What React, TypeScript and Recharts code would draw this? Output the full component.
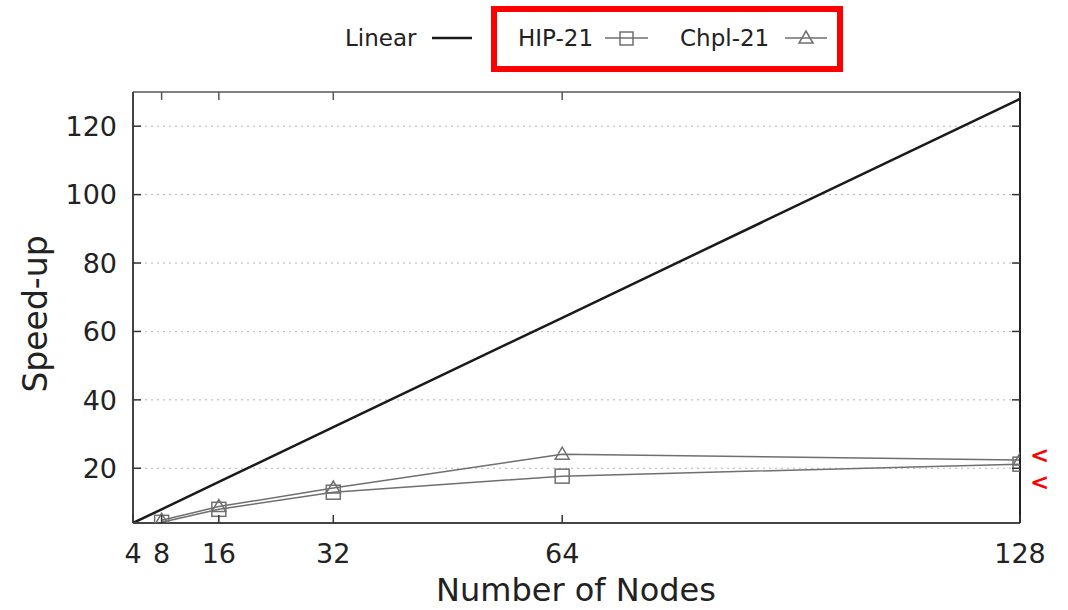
import React from 'react';
import { LineChart, Line, XAxis, YAxis, CartesianGrid } from 'recharts';

const nodes = [4, 8, 16, 32, 64, 128];
const linearSpeedup = [4, 8, 16, 32, 64, 128];
const hip21 = [null, 4.2, 8.0, 13.0, 17.7, 21.2];
const chpl21 = [null, 4.8, 8.8, 14.2, 24.1, 22.4];
const xTicks = [4, 8, 16, 32, 64, 128];
const yTicks = [20, 40, 60, 80, 100, 120];

const data = nodes.map((n, i) => ({ n, linear: linearSpeedup[i], hip: hip21[i], chpl: chpl21[i] }));

const FONT = 'DejaVu Sans';
const GRAY = '#6f6f6f';

const SquareDot = (props: any) => {
  const { cx, cy, value } = props;
  if (value == null || cx == null || cy == null) return <g />;
  return <rect x={cx - 7} y={cy - 7} width={14} height={14} fill="none" stroke={GRAY} strokeWidth={1.5} />;
};

const TriDot = (props: any) => {
  const { cx, cy, value } = props;
  if (value == null || cx == null || cy == null) return <g />;
  return <path d={`M${cx - 7},${cy + 5} L${cx + 7},${cy + 5} L${cx},${cy - 7} Z`} fill="none" stroke={GRAY} strokeWidth={1.5} />;
};

const BottomTick = (props: any) => {
  const { x, y, payload } = props;
  return (
    <g>
      <line x1={x} x2={x} y1={y} y2={y - 8} stroke="#333" strokeWidth={1.5} />
      <text x={x} y={y + 40} textAnchor="middle" fontSize={27} fontFamily={FONT} fill="#222">{payload.value}</text>
    </g>
  );
};

const TopTick = (props: any) => {
  const { x, y } = props;
  return <line x1={x} x2={x} y1={y} y2={y + 8} stroke="#555" strokeWidth={1.5} />;
};

const LeftTick = (props: any) => {
  const { x, y, payload } = props;
  return (
    <g>
      <line x1={x} x2={x + 8} y1={y} y2={y} stroke="#333" strokeWidth={1.5} />
      <text x={x - 16} y={y} dy="0.36em" textAnchor="end" fontSize={27} fontFamily={FONT} fill="#222">{payload.value}</text>
    </g>
  );
};

const RightTick = (props: any) => {
  const { x, y } = props;
  return <line x1={x} x2={x - 8} y1={y} y2={y} stroke="#333" strokeWidth={1.5} />;
};

export default function App() {
  return (
    <div style={{ position: 'absolute', left: 0, top: 0, width: 1068, height: 610, background: '#fff' }}>
      <LineChart width={1068} height={610} data={data} margin={{ top: 91, right: 47, left: 0, bottom: 0 }}>
        <CartesianGrid horizontal vertical={false} stroke="#b5b5b5" strokeDasharray="2 4" />
        <XAxis
          dataKey="n"
          type="number"
          domain={[4, 128]}
          ticks={xTicks}
          allowDataOverflow
          height={87}
          tickSize={0}
          tickMargin={0}
          tickLine={false}
          axisLine={{ stroke: '#444', strokeWidth: 2 }}
          tick={<BottomTick />}
          interval={0}
        />
        <XAxis
          xAxisId="top"
          orientation="top"
          dataKey="n"
          type="number"
          domain={[4, 128]}
          ticks={[8, 16, 32, 64]}
          allowDataOverflow
          height={1}
          tickSize={0}
          tickMargin={0}
          tickLine={false}
          axisLine={{ stroke: '#808080', strokeWidth: 2 }}
          tick={<TopTick />}
          interval={0}
        />
        <YAxis
          type="number"
          domain={[4, 130]}
          ticks={yTicks}
          allowDataOverflow
          width={133}
          tickSize={0}
          tickMargin={0}
          tickLine={false}
          axisLine={{ stroke: '#444', strokeWidth: 2 }}
          tick={<LeftTick />}
          interval={0}
        />
        <YAxis
          yAxisId="right"
          orientation="right"
          type="number"
          domain={[4, 130]}
          ticks={yTicks}
          allowDataOverflow
          width={1}
          tickSize={0}
          tickMargin={0}
          tickLine={false}
          axisLine={{ stroke: '#222', strokeWidth: 2 }}
          tick={<RightTick />}
          interval={0}
        />
        <Line xAxisId="top" yAxisId="right" dataKey="linear" stroke="none" strokeWidth={0} dot={false} activeDot={false} legendType="none" isAnimationActive={false} />
        <Line dataKey="linear" stroke="#1a1a1a" strokeWidth={2.5} dot={false} isAnimationActive={false} />
        <Line dataKey="hip" stroke={GRAY} strokeWidth={1.5} dot={<SquareDot />} isAnimationActive={false} />
        <Line dataKey="chpl" stroke={GRAY} strokeWidth={1.5} dot={<TriDot />} isAnimationActive={false} />
      </LineChart>
      <svg width={1068} height={610} style={{ position: 'absolute', left: 0, top: 0, pointerEvents: 'none' }}>
        <g fontFamily={FONT} fill="#222">
          <text x={345} y={38} dy="0.36em" fontSize={23}>Linear</text>
          <line x1={432} x2={472} y1={38} y2={38} stroke="#1a1a1a" strokeWidth={2.5} />
          <text x={518} y={38} dy="0.36em" fontSize={23}>HIP-21</text>
          <line x1={605} x2={648} y1={38} y2={38} stroke={GRAY} strokeWidth={1.5} />
          <rect x={620} y={32} width={13} height={13} fill="none" stroke={GRAY} strokeWidth={1.5} />
          <text x={680} y={38} dy="0.36em" fontSize={23}>Chpl-21</text>
          <line x1={785} x2={827} y1={38} y2={38} stroke={GRAY} strokeWidth={1.5} />
          <path d="M799,43 L813,43 L806,31 Z" fill="none" stroke={GRAY} strokeWidth={1.5} />
          <rect x={494} y={9} width={346} height={60} fill="none" stroke="#ff0000" strokeWidth={6} />
          <text x={576} y={601} textAnchor="middle" fontSize={32}>Number of Nodes</text>
          <text transform="translate(47,314) rotate(-90)" textAnchor="middle" fontSize={33}>Speed-up</text>
          <text x={1030} y={455} dy="0.36em" fontSize={23} fontWeight="bold" fill="#ff0000">&lt;</text>
          <text x={1030} y={482} dy="0.36em" fontSize={23} fontWeight="bold" fill="#ff0000">&lt;</text>
        </g>
      </svg>
    </div>
  );
}
